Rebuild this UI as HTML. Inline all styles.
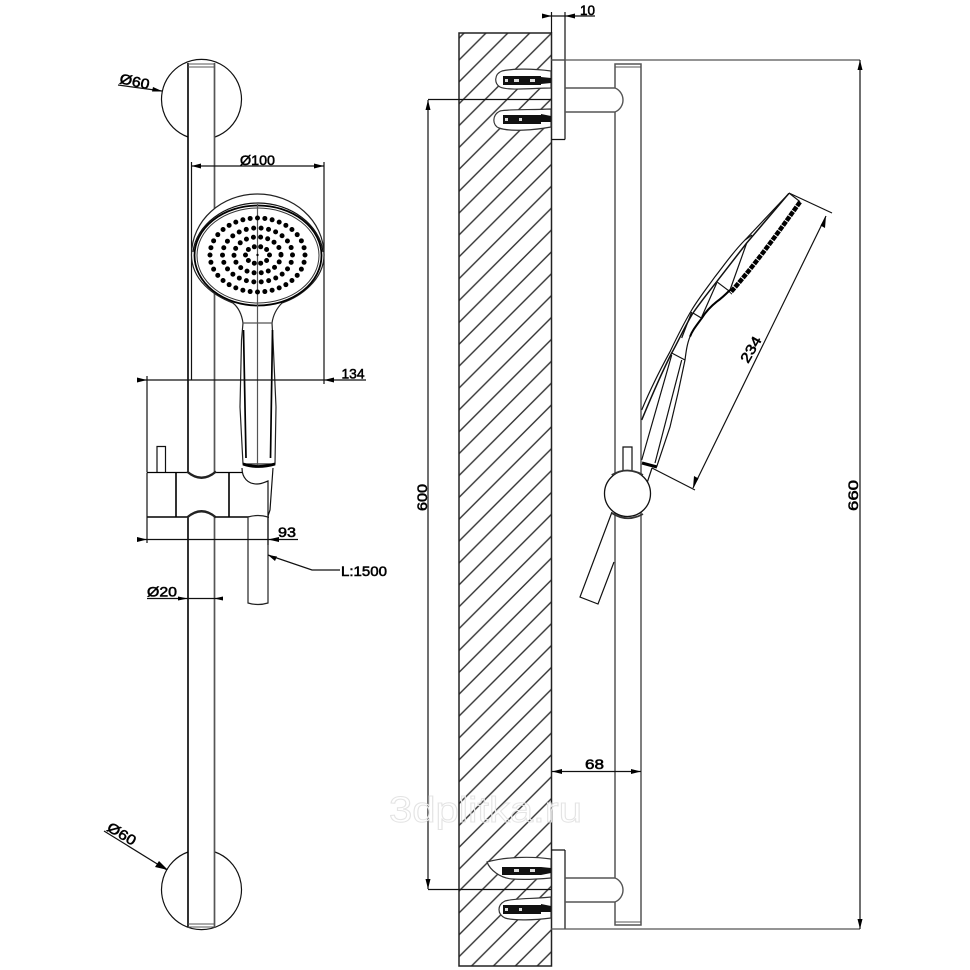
<!DOCTYPE html>
<html><head><meta charset="utf-8"><style>
html,body{margin:0;padding:0;background:#fff}
svg{display:block;filter:blur(.3px)}
text{font-family:"Liberation Sans",sans-serif;font-size:14px;fill:#000;stroke:#000;stroke-width:.55}
.l{fill:none;stroke:#111;stroke-width:1.2}
.d{fill:none;stroke:#000;stroke-width:1.6}
.g{fill:none;stroke:#555;stroke-width:1.7}
.w{fill:#fff;stroke:#222;stroke-width:1.2}
.a{fill:#000;stroke:none}
</style></head><body>
<svg width="970" height="970" viewBox="0 0 970 970" xmlns="http://www.w3.org/2000/svg">
<defs>
<pattern id="h" patternUnits="userSpaceOnUse" width="21.87" height="21.87" patternTransform="translate(-5.87 0)">
<path d="M-2 23.87L23.87 -2" stroke="#333" stroke-width="1.4" fill="none"/>
<path d="M-2 2L2 -2M19.87 23.87L23.87 19.87" stroke="#333" stroke-width="1.4" fill="none"/>
</pattern>
</defs>
<rect width="970" height="970" fill="#fff"/>

<!-- LEFT VIEW: wall discs and bar -->
<path class="l" d="M188 137 A40 40 0 1 1 215 137"/>
<path class="l" d="M188 852 A40 40 0 1 0 215 852" />
<path class="d" d="M188 63V472M188 517V927"/>
<path class="g" d="M214.500 63V472M214.500 517V927"/>
<path class="g" d="M188 64H215M188 67H215M188 924H215M188 927H215" style="stroke-width:1"/>

<!-- Ø60 labels -->
<text transform="translate(119 83) rotate(12)" textLength="30" lengthAdjust="spacingAndGlyphs">Ø60</text>
<path class="l" d="M118 85L162 91"/><path class="a" d="M163 91.500L153 87L152 91.500Z"/>
<text transform="translate(106 830) rotate(31)" textLength="31" lengthAdjust="spacingAndGlyphs">Ø60</text>
<path class="l" d="M104 831L167 870"/><path class="a" d="M168 870L159 861L155 867Z"/>

<!-- Ø100 -->
<path class="l" d="M191.500 162V380M324 162V384M191.500 166H324"/>
<path class="a" d="M191.500 166L201 163.500V168.500ZM324 166L314 163.500V168.500Z"/>
<text x="240" y="165" textLength="35" lengthAdjust="spacingAndGlyphs">Ø100</text>

<!-- Shower head front -->
<path class="w" d="M191.500 255C191.500 220 222 194 257.500 194C293 194 324 220 324 255C324 280 300 297 282 303C276 309 273 316 272 323L273 340L276 407L275 464H243L240 407L241.500 340L243 323C242 316 239 308 233 303C214 296 191.500 280 191.500 255Z"/>
<ellipse cx="258" cy="255.500" rx="63.500" ry="50" fill="#fff" stroke="#000" stroke-width="1.800"/>
<ellipse cx="258" cy="255.500" rx="61" ry="47.500" fill="none" stroke="#333" stroke-width="1"/>
<path d="M193 252C196 225 225 203 258 203C291 203 320 225 323 252" fill="none" stroke="#111" stroke-width="1.200"/>
<path class="g" d="M257.500 204V465M243 323H272" style="stroke-width:1.200"/>
<path d="M243.500 330L246 458M272.500 330L270.500 458" fill="none" stroke="#000" stroke-width="1.700"/>
<g fill="none" stroke="#000" stroke-width="5" stroke-linecap="round">
<ellipse cx="257.500" cy="255" rx="47.500" ry="37" pathLength="36" stroke-dasharray="0 1"/>
<ellipse cx="257.500" cy="255" rx="35" ry="27" pathLength="26" stroke-dasharray="0 1"/>
<ellipse cx="257.500" cy="255" rx="23.500" ry="18" pathLength="18" stroke-dasharray="0 1"/>
<ellipse cx="257.500" cy="255" rx="12" ry="8.500" pathLength="10" stroke-dasharray="0 1"/>
</g>
<circle cx="257.500" cy="255" r="1.200" fill="#000"/>
<path d="M243 464Q258 469 275 464" fill="none" stroke="#000" stroke-width="2.800"/>

<!-- Clamp -->
<path class="l" d="M157 472V446.500H165.500V472"/>
<path class="d" d="M147 472.500H188M215 472.500H242" style="stroke-width:1.300"/>
<path class="d" d="M147 517H188M215 517H269"/>
<path class="l" d="M147 472.500V517"/>
<path class="d" d="M176 472.500V517M229 472.500V517"/>
<path d="M187 471.500Q201.500 484 216 471.500M187 517.500Q201.500 505 216 517.500" fill="none" stroke="#222" stroke-width="2.300"/>
<path class="l" d="M242 468C242 478 248 484 257 484C262 484 265 482 268 481V516"/>
<path class="l" d="M273 468L270 510L268 516"/>
<path class="w" d="M248 517V603Q258 606 268 603V517Q258 514 248 517Z"/>

<!-- 134 / 93 / L:1500 / Ø20 -->
<path class="l" d="M137 380H366M147 376V472M147 517V543M268 517V545"/>
<path class="a" d="M147 380L137 377.500V382.500ZM324 380L334 377.500V382.500Z"/>
<text x="341.500" y="378.500" textLength="23" lengthAdjust="spacingAndGlyphs">134</text>
<path class="l" d="M137 539.500H298"/>
<path class="a" d="M147 539.500L137 537V542ZM268 539.500L279 537V542Z"/>
<text x="278" y="537" textLength="18" lengthAdjust="spacingAndGlyphs">93</text>
<path class="l" d="M268 555L312 570H340"/><path class="a" d="M268 555L277 556.500L275 561Z"/>
<text x="341" y="576" textLength="46" lengthAdjust="spacingAndGlyphs">L:1500</text>
<text x="147" y="596.500" textLength="30" lengthAdjust="spacingAndGlyphs">Ø20</text>
<path class="l" d="M147 598.500H223"/>
<path class="a" d="M178 596.500L188 598.500L178 600.500ZM223 596.500L214 598.500L223 600.500Z"/>

<!-- RIGHT VIEW: wall -->
<rect x="459" y="33" width="92.500" height="933" fill="url(#h)" stroke="#222" stroke-width="1.500"/>

<!-- anchors -->
<path fill="#fff" stroke="#333" stroke-width="1.200" d="M551 71C530 68 510 69 502 71C494 74 494 84 500 87C508 91 535 88 551 88Z"/>
<path fill="#fff" stroke="#333" stroke-width="1.200" d="M551 109C530 110 510 109 500 111C492 115 492 125 499 128C510 132 535 130 551 127Z"/>
<path fill="#fff" stroke="#333" stroke-width="1.200" d="M551 859C530 856 505 857 487 862C490 870 500 878 512 879C525 880 540 879 551 878Z"/>
<path fill="#fff" stroke="#333" stroke-width="1.200" d="M551 897C535 899 515 898 505 901C497 905 497 914 505 918C515 921 535 920 551 918Z"/>
<g fill="#111">
<path d="M503 76H541V77L551 78V83L541 84V85H503Z"/>
<path d="M503 115H541V114L551 116V122L541 122V124H503Z"/>
<path d="M502 867H541L551 868V873L541 875H502Z"/>
<path d="M503 905H541V904L551 906V912L541 912V914H503Z"/>
</g>
<g fill="#ddd">
<rect x="505" y="79" width="3" height="3"/><rect x="514" y="79" width="5" height="3"/><rect x="530" y="79" width="5" height="3"/>
<rect x="505" y="118" width="3" height="3"/><rect x="519" y="118" width="3" height="3"/>
<rect x="514" y="869" width="5" height="3"/><rect x="530" y="869" width="5" height="3"/>
<rect x="505" y="908" width="3" height="3"/><rect x="519" y="908" width="3" height="3"/>
</g>

<!-- plates, arms, bar -->
<path class="l" d="M551.500 12V33M551.500 60H565M551.500 139.500H565M565 12V139.500M551.500 850H565M565 850V929"/>
<path class="g" d="M551 60H860M551 929H860" style="stroke-width:1.300"/>
<path class="g" d="M615 88V64H641V925H615V902M615 112V878" style="stroke-width:1.500"/>
<path class="g" d="M615 67H641M615 922H641" style="stroke-width:1"/>
<path class="g" d="M565 88H615C620 90 623 95 623 100C623 105 620 110 615 112H565" style="stroke-width:1.400"/>
<path class="g" d="M565 878H615C620 880 623 885 623 890C623 895 620 900 615 902H565" style="stroke-width:1.400"/>

<!-- dims right view -->
<path class="l" d="M542 16H595"/>
<path class="a" d="M551.500 16L542 13.500V18.500ZM565 16L575 13.500V18.500Z"/>
<text x="580" y="15" textLength="15" lengthAdjust="spacingAndGlyphs">10</text>
<path class="l" d="M428 99.500H551M428 889.500H551M428 100V889"/>
<path class="a" d="M428 100L425.500 110H430.500ZM428 889L425.500 879H430.500Z"/>
<text transform="translate(427 511) rotate(-90)" textLength="27" lengthAdjust="spacingAndGlyphs">600</text>
<path class="l" d="M860 60V929"/>
<path class="a" d="M860 60L857.500 70H862.500ZM860 929L857.500 919H862.500Z"/>
<text transform="translate(858 511) rotate(-90)" textLength="31" lengthAdjust="spacingAndGlyphs">660</text>
<path class="l" d="M552 771.500H641"/>
<path class="a" d="M552 771.500L562 769V774ZM641 771.500L631 769V774Z"/>
<text x="585" y="769" textLength="19" lengthAdjust="spacingAndGlyphs">68</text>

<!-- side shower head -->
<path class="l" d="M789 193.300L745 240C733 252 725 264 715 276.700C707 288 699 298 691.700 310C684 323 677 337 670 351.700C660 370 650 390 641.700 410"/>
<path class="l" d="M789 193.300L746.700 243L716.700 281.700C707 294 700 303 693 313C685 326 679 340 671.700 353C661 374 650 400 641.700 420" style="stroke-width:1.500"/>
<path class="l" d="M745 240L752 235M746.700 243L730 290M716.700 281.700L730 291.700M693 313L701.700 318.300M671.700 353L685 360M716.700 283L701.700 317M691.700 312L681.700 338"/>
<path d="M800 202C780 230 755 265 730 293" fill="none" stroke="#000" stroke-width="4.500" stroke-dasharray="5 1"/>
<path d="M730 290C724 296 722 298 716.700 301.700C710 307 705 313 701.700 318.300C696 326 692 331 690 336.700" fill="none" stroke="#000" stroke-width="2"/>
<path class="l" d="M690 336.700C687 344 686 352 685 360L678 393L670 427L656.700 466.700M671.700 355L641.700 460M681.700 360L655 463M789 193L800 201.700"/>
<path d="M642 463L657 467" fill="none" stroke="#000" stroke-width="3.200"/>
<path class="l" d="M652 468L647 483"/>
<path class="l" d="M789 193L832 213M652 468L695 490M826 216L693 488"/>
<path class="a" d="M826 216L820.500 225.500L825 228ZM693 488L698.500 478.500L694 476Z"/>
<text transform="translate(748 364) rotate(-60)" textLength="28" lengthAdjust="spacingAndGlyphs">234</text>

<!-- ball / hose -->
<path class="l" d="M623 470V447H632V470"/>
<path class="l" d="M612 512L580 597L598 604L614 562"/>
<circle cx="627.500" cy="493.500" r="23" fill="#fff" stroke="#111" stroke-width="1.300"/>
<path d="M611.700 475Q627 466 643 475M611.700 513Q627 523 643 514" fill="none" stroke="#333" stroke-width="1.800"/>

<!-- watermark -->
<text x="389" y="822" textLength="193" lengthAdjust="spacingAndGlyphs" style="font-size:36px;fill:none;stroke:#e4e4e4;stroke-width:1">3dplitka.ru</text>
</svg>
</body></html>
